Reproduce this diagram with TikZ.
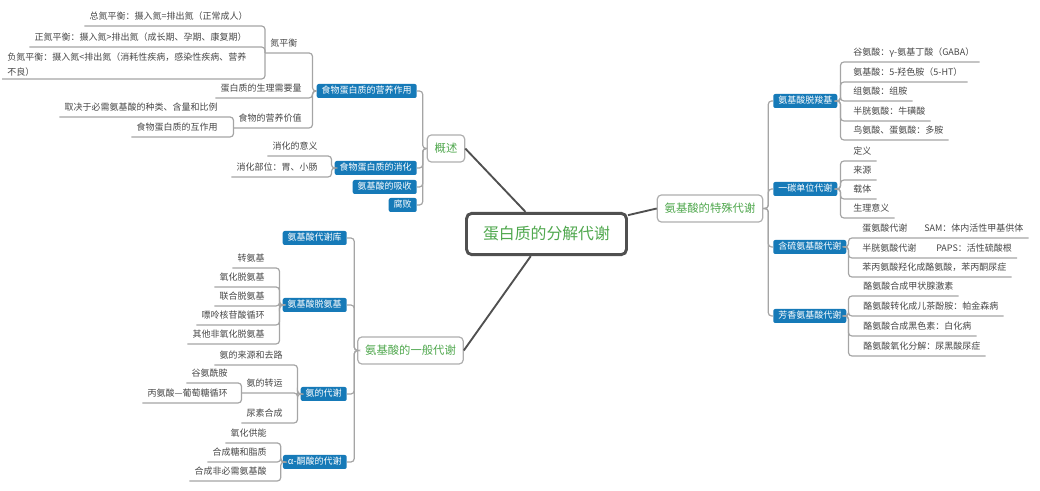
\documentclass[tikz,border=0pt]{standalone}
\usepackage{fontspec}
\setmainfont{Noto Sans CJK SC}
\definecolor{boxblue}{RGB}{22,122,184}
\definecolor{topicgreen}{RGB}{80,168,78}
\definecolor{topicgray}{RGB}{175,175,175}
\definecolor{rootgray}{RGB}{80,80,80}
\definecolor{linegray}{RGB}{165,165,165}
\definecolor{leafgray}{RGB}{70,70,70}
\newcommand\mmleaf{\fontsize{6.75pt}{11.25pt}\selectfont}
\newcommand\mmbox{\fontsize{6.75pt}{8pt}\selectfont}
\newcommand\mmtopic{\fontsize{8.5pt}{10pt}\selectfont}
\newcommand\mmroot{\fontsize{11.9pt}{14pt}\selectfont}
\begin{document}
\begin{tikzpicture}[x=0.75pt,y=-0.75pt,
  conn/.style={draw=linegray, line width=0.9pt, rounded corners=2.5pt},
  leaf/.style={font=\mmleaf, text=leafgray, inner xsep=3.75pt, inner ysep=3.2pt, text height=6pt, text depth=1.5pt},
  leafml/.style={font=\mmleaf, text=leafgray, inner xsep=3.75pt, inner ysep=2pt, align=left},
  bluebox/.style={font=\mmbox, text=white, fill=boxblue, rounded corners=1.5pt, inner xsep=3.75pt, inner ysep=1.5pt, text height=6pt, text depth=1.5pt},
  topic/.style={font=\mmtopic, text=topicgreen, draw=topicgray, fill=white, line width=0.9pt, rounded corners=3pt, minimum height=20.25pt, inner xsep=5.5pt, inner ysep=0pt},
  root/.style={font=\mmroot, text=topicgreen, draw=rootgray, fill=white, line width=2.2pt, rounded corners=4pt, minimum width=120pt, minimum height=31pt},
  mainline/.style={draw=rootgray, line width=1.4pt}
]
\useasboundingbox (0,0) rectangle (1040,491);

% root and main topics
\node[root] (root) at (546.5,234) {蛋白质的分解代谢};
\node[topic] (gs) at (446,148.5) {概述};
\node[topic] (ts) at (710,208.5) {氨基酸的特殊代谢};
\node[topic] (yb) at (410.5,350.5) {氨基酸的一般代谢};
\draw[mainline] (gs.east) -- (root);
\draw[mainline] (ts.west) -- (root);
\draw[mainline] (yb.east) -- (root);

% ---- 概述 ----
\node[bluebox, anchor=east] (yy) at (417,91) {食物蛋白质的营养作用};
\node[bluebox, anchor=east] (xh) at (417,168) {食物蛋白质的消化};
\node[bluebox, anchor=east] (xs) at (417,187) {氨基酸的吸收};
\node[bluebox, anchor=east] (fb) at (417,205) {腐败};
\foreach \c in {yy,xh,xs,fb} \draw[conn] (gs.west) -- ++(-4,0) |- (\c.east);

\node[leaf, anchor=south west] (dph) at (265,53) {氮平衡};
\node[leaf, anchor=south east] (slxy) at (307,98) {蛋白质的生理需要量};
\node[leaf, anchor=south east] (yyjz) at (307,128) {食物的营养价值};
\foreach \c in {dph,slxy,yyjz} \draw[conn] (yy.west) -- ++(-4,0) |- (\c.south west);

\node[leaf, anchor=south east] (zdp) at (253,26) {总氮平衡：摄入氮=排出氮（正常成人）};
\node[leaf, anchor=south east] (zhdp) at (252,47) {正氮平衡：摄入氮>排出氮（成长期、孕期、康复期）};
\node[leafml, anchor=south west] (fdp) at (2,79) {负氮平衡：摄入氮<排出氮（消耗性疾病，感染性疾病、营养\\不良）};
\foreach \c in {zdp,zhdp,fdp} \draw[conn] (dph.south west) |- (\c.south west);

\node[leaf, anchor=south east] (qj) at (223,117) {取决于必需氨基酸的种类、含量和比例};
\node[leaf, anchor=south east] (hzy) at (223,137) {食物蛋白质的互作用};
\foreach \c in {qj,hzy} \draw[conn] (yyjz.south west) |- (\c.south west);

\node[leaf, anchor=south east] (xhyy) at (323,156) {消化的意义};
\node[leaf, anchor=south east] (xhbw) at (323,177) {消化部位：胃、小肠};
\foreach \c in {xhyy,xhbw} \draw[conn] (xh.west) -- ++(-3,0) |- (\c.south west);

% ---- 氨基酸的一般代谢 ----
\node[bluebox, anchor=east] (kk) at (347,238) {氨基酸代谢库};
\node[bluebox, anchor=east] (tj) at (347,305) {氨基酸脱氨基};
\node[bluebox, anchor=east] (ad) at (347,394) {氨的代谢};
\node[bluebox, anchor=east] (tt) at (347,462) {α-酮酸的代谢};
\foreach \c in {kk,tj,ad,tt} \draw[conn] (yb.west) -- ++(-3,0) |- (\c.east);

\node[leaf, anchor=south east] (zaj) at (270,268) {转氨基};
\node[leaf, anchor=south east] (yhtaj) at (270,287) {氧化脱氨基};
\node[leaf, anchor=south east] (lhtaj) at (270,306) {联合脱氨基};
\node[leaf, anchor=south east] (plhg) at (270,325) {嘌呤核苷酸循环};
\node[leaf, anchor=south east] (qtfyh) at (270,344) {其他非氧化脱氨基};
\foreach \c in {zaj,yhtaj,lhtaj,plhg,qtfyh} \draw[conn] (tj.west) -- ++(-3,0) |- (\c.south west);

\node[leaf, anchor=south east] (lyql) at (288,365) {氨的来源和去路};
\node[leaf, anchor=south east] (azy) at (288,393) {氨的转运};
\node[leaf, anchor=south east] (nshc) at (288,423) {尿素合成};
\foreach \c in {lyql,azy,nshc} \draw[conn] (ad.west) -- ++(-3,0) |- (\c.south west);

\node[leaf, anchor=south east] (gxa) at (233,383) {谷氨酰胺};
\node[leaf, anchor=south east] (bpxh) at (233,403) {丙氨酸—葡萄糖循环};
\foreach \c in {gxa,bpxh} \draw[conn] (azy.south west) |- (\c.south west);

\node[leaf, anchor=south east] (yhgn) at (272,443) {氧化供能};
\node[leaf, anchor=south east] (hctz) at (272,462) {合成糖和脂质};
\node[leaf, anchor=south east] (hcfb) at (272,481) {合成非必需氨基酸};
\foreach \c in {yhgn,hctz,hcfb} \draw[conn] (tt.west) -- ++(-2,0) |- (\c.south west);

% ---- 氨基酸的特殊代谢 ----
\node[bluebox, anchor=west] (tx) at (773,101) {氨基酸脱羧基};
\node[bluebox, anchor=west] (yt) at (773,189) {一碳单位代谢};
\node[bluebox, anchor=west] (hl) at (773,247) {含硫氨基酸代谢};
\node[bluebox, anchor=west] (fx) at (773,316) {芳香氨基酸代谢};
\foreach \c in {tx,yt,hl,fx} \draw[conn] (ts.east) -- ++(5,0) |- (\c.west);

\node[leaf, anchor=south west] (r1) at (848,62) {谷氨酸：γ-氨基丁酸（GABA）};
\node[leaf, anchor=south west] (r2) at (848,82) {氨基酸：5-羟色胺（5-HT）};
\node[leaf, anchor=south west] (r3) at (848,101) {组氨酸：组胺};
\node[leaf, anchor=south west] (r4) at (848,121) {半胱氨酸：牛磺酸};
\node[leaf, anchor=south west] (r5) at (848,140) {鸟氨酸、蛋氨酸：多胺};
\foreach \c in {r1,r2,r3,r4,r5} \draw[conn] (tx.east) -- ++(3,0) |- (\c.south east);

\node[leaf, anchor=south west] (d1) at (848,161) {定义};
\node[leaf, anchor=south west] (d2) at (848,180) {来源};
\node[leaf, anchor=south west] (d3) at (848,199) {载体};
\node[leaf, anchor=south west] (d4) at (848,218) {生理意义};
\foreach \c in {d1,d2,d3,d4} \draw[conn] (yt.east) -- ++(3,0) |- (\c.south east);

\node[leaf, anchor=south west] (s1) at (857,238) {蛋氨酸代谢\hspace{12.75pt}SAM：体内活性甲基供体};
\node[leaf, anchor=south west] (s2) at (857,258) {半胱氨酸代谢\hspace{15pt}PAPS：活性硫酸根};
\node[leaf, anchor=south west] (s3) at (857,277) {苯丙氨酸羟化成酪氨酸，苯丙酮尿症};
\foreach \c in {s1,s2,s3} \draw[conn] (hl.east) -- ++(2,0) |- (\c.south east);

\node[leaf, anchor=south west] (f1) at (858,296) {酪氨酸合成甲状腺激素};
\node[leaf, anchor=south west] (f2) at (858,316) {酪氨酸转化成儿茶酚胺：帕金森病};
\node[leaf, anchor=south west] (f3) at (858,336) {酪氨酸合成黑色素：白化病};
\node[leaf, anchor=south west] (f4) at (858,356) {酪氨酸氧化分解：尿黑酸尿症};
\foreach \c in {f1,f2,f3,f4} \draw[conn] (fx.east) -- ++(2,0) |- (\c.south east);
\end{tikzpicture}
\end{document}
